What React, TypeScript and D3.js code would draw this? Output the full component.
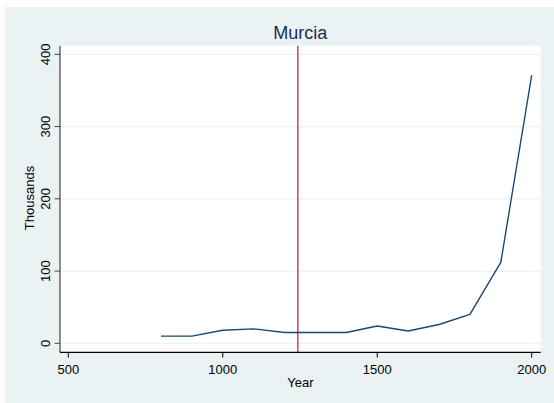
import React from "react";
import * as d3 from "d3";

const years = [800, 900, 1000, 1100, 1200, 1300, 1400, 1500, 1600, 1700, 1800, 1900, 2000];
const population = [10, 10, 18, 20, 15, 15, 15, 24, 17, 26, 40, 112, 371];
const xTicks = [500, 1000, 1500, 2000];
const yTicks = [0, 100, 200, 300, 400];
const markerYear = 1243;
const title = "Murcia";
const xLabel = "Year";
const yLabel = "Thousands";

const W = 554;
const H = 403;
const plot = { left: 60, right: 540.7, top: 45.7, bottom: 352.3 };
const font = "'Liberation Sans', Arial, Helvetica, sans-serif";

export default function App() {
  const x = d3.scaleLinear().domain([500, 2000]).range([68.3, 531.7]);
  const y = d3.scaleLinear().domain([0, 400]).range([343.3, 54.3]);
  const pts: [number, number][] = years.map((yr, i) => [yr, population[i]]);
  const line = d3
    .line<[number, number]>()
    .x((d) => x(d[0]))
    .y((d) => y(d[1]));

  return (
    <svg
      width={W}
      height={H}
      style={{ position: "absolute", left: 0, top: 0 }}
      fontFamily={font}
    >
      <rect x={0} y={0} width={W} height={H} fill="#ffffff" />
      <rect x={5} y={7} width={W - 5} height={H - 7} fill="#eaf2f3" />
      <rect
        x={plot.left}
        y={plot.top}
        width={plot.right - plot.left}
        height={plot.bottom - plot.top}
        fill="#ffffff"
      />
      {yTicks.map((t) => (
        <line
          key={"g" + t}
          x1={plot.left}
          x2={plot.right}
          y1={y(t)}
          y2={y(t)}
          stroke="#eaf2f3"
          strokeWidth={1.2}
        />
      ))}
      <text
        x={(plot.left + plot.right) / 2}
        y={39}
        textAnchor="middle"
        fontSize={18}
        fill="#1e2d53"
      >
        {title}
      </text>
      <line
        x1={x(markerYear)}
        x2={x(markerYear)}
        y1={plot.top}
        y2={plot.bottom}
        stroke="#d0253f"
        strokeWidth={1.3}
      />
      <path d={line(pts) || ""} fill="none" stroke="#1a476f" strokeWidth={1.4} strokeLinejoin="round" />
      {/* axes */}
      <line x1={plot.left} x2={plot.left} y1={plot.top} y2={plot.bottom} stroke="#444" strokeWidth={1.2} />
      <line x1={plot.left} x2={plot.right} y1={plot.bottom} y2={plot.bottom} stroke="#000" strokeWidth={1.2} />
      {yTicks.map((t) => (
        <g key={"y" + t}>
          <line x1={54.5} x2={plot.left} y1={y(t)} y2={y(t)} stroke="#444" strokeWidth={1} />
          <text
            transform={`translate(49.5,${y(t)}) rotate(-90)`}
            textAnchor="middle"
            fontSize={13}
            fill="#000"
          >
            {t}
          </text>
        </g>
      ))}
      {xTicks.map((t) => (
        <g key={"x" + t}>
          <line x1={x(t)} x2={x(t)} y1={plot.bottom} y2={357.5} stroke="#000" strokeWidth={1} />
          <text x={x(t)} y={374} textAnchor="middle" fontSize={13} fill="#000">
            {t}
          </text>
        </g>
      ))}
      <text x={(plot.left + plot.right) / 2} y={387} textAnchor="middle" fontSize={13} fill="#000">
        {xLabel}
      </text>
      <text
        transform={`translate(33.5,${198}) rotate(-90)`}
        textAnchor="middle"
        fontSize={13}
        fill="#000"
      >
        {yLabel}
      </text>
    </svg>
  );
}
